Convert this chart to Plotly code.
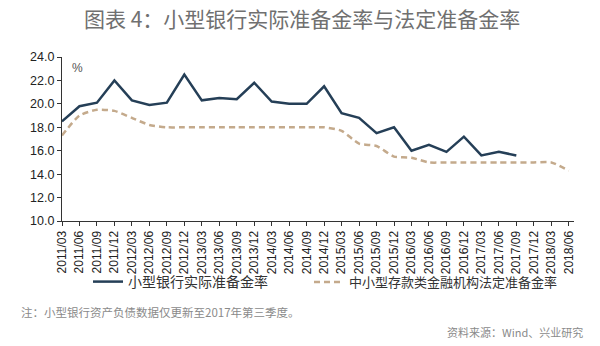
import plotly.graph_objects as go

quarters = ["2011/03","2011/06","2011/09","2011/12","2012/03","2012/06","2012/09","2012/12",
            "2013/03","2013/06","2013/09","2013/12","2014/03","2014/06","2014/09","2014/12",
            "2015/03","2015/06","2015/09","2015/12","2016/03","2016/06","2016/09","2016/12",
            "2017/03","2017/06","2017/09","2017/12","2018/03","2018/06"]

actual_rrr = [18.5, 19.8, 20.1, 22.0, 20.3, 19.9, 20.1, 22.5,
              20.3, 20.5, 20.4, 21.8, 20.2, 20.0, 20.0, 21.5,
              19.2, 18.8, 17.5, 18.0, 16.0, 16.5, 15.9, 17.2,
              15.6, 15.9, 15.6]

statutory_rrr = [17.3, 19.0, 19.5, 19.4, 18.8, 18.2, 18.0, 18.0,
                 18.0, 18.0, 18.0, 18.0, 18.0, 18.0, 18.0, 18.0,
                 17.7, 16.6, 16.4, 15.5, 15.4, 15.0, 15.0, 15.0,
                 15.0, 15.0, 15.0, 15.0, 15.0, 14.3]

y_ticks = [10.0, 12.0, 14.0, 16.0, 18.0, 20.0, 22.0, 24.0]

font_cjk = "Noto Sans CJK SC"

fig = go.Figure()
fig.add_trace(go.Scatter(
    x=quarters[:len(actual_rrr)], y=actual_rrr, mode="lines",
    name="小型银行实际准备金率", legend="legend",
    line=dict(color="#253f57", width=2.5)))
fig.add_trace(go.Scatter(
    x=quarters, y=statutory_rrr, mode="lines",
    name="中小型存款类金融机构法定准备金率", legend="legend2",
    line=dict(color="#c4aa8c", width=2.5, dash="6px,4px", shape="spline", smoothing=0.6)))

plot_l, plot_r, plot_t, plot_b = 62, 26, 57, 125
plot_h = 346 - plot_t - plot_b
plot_w = 600 - plot_l - plot_r

def px(xp):
    return (xp - plot_l) / plot_w

def py(yp):
    return (346 - plot_b - yp) / plot_h

fig.update_layout(
    width=600, height=346,
    margin=dict(l=plot_l, r=plot_r, t=plot_t, b=plot_b),
    paper_bgcolor="white", plot_bgcolor="white",
    font=dict(family=font_cjk, color="#333333"),
    showlegend=True,
    legend=dict(orientation="h", x=px(88), y=py(282), xanchor="left", yanchor="middle",
                font=dict(size=14, color="#333333", family=font_cjk), bgcolor="rgba(0,0,0,0)"),
    legend2=dict(orientation="h", x=px(309), y=py(282), xanchor="left", yanchor="middle",
                 font=dict(size=13, color="#333333", family=font_cjk), bgcolor="rgba(0,0,0,0)"),
    xaxis=dict(type="category", categoryorder="array", categoryarray=quarters,
               range=[0, 29.3], tickangle=-90, showgrid=False,
               showline=True, linecolor="#333333", linewidth=1.2,
               ticks="outside", ticklen=4, tickcolor="#333333",
               tickfont=dict(family="Liberation Sans, Arial", size=12, color="#222222")),
    yaxis=dict(range=[10, 24], tickvals=y_ticks, ticktext=[f"{v:.1f}" for v in y_ticks],
               showgrid=False, zeroline=False,
               showline=True, linecolor="#333333", linewidth=1.2,
               ticks="outside", ticklen=4, tickcolor="#333333",
               tickfont=dict(family="Liberation Sans, Arial", size=12.5, color="#222222")),
    annotations=[
        dict(text="图表 4：小型银行实际准备金率与法定准备金率", xref="paper", yref="paper",
             x=px(302), y=py(18), xanchor="center", yanchor="middle", showarrow=False,
             font=dict(size=21, color="#707070", family=font_cjk)),
        dict(text="%", xref="paper", yref="paper", x=px(70), y=py(68),
             xanchor="left", yanchor="middle", showarrow=False,
             font=dict(size=12, color="#555555", family="Liberation Sans, Arial")),
        dict(text="注：小型银行资产负债数据仅更新至2017年第三季度。", xref="paper", yref="paper",
             x=px(19), y=py(312), xanchor="left", yanchor="middle", showarrow=False,
             font=dict(size=11.5, color="#8a8a8a", family=font_cjk)),
        dict(text="资料来源：Wind、兴业研究", xref="paper", yref="paper",
             x=px(585), y=py(332), xanchor="right", yanchor="middle", showarrow=False,
             font=dict(size=11, color="#8a8a8a", family=font_cjk)),
    ],
)

fig.write_html("out.html")
